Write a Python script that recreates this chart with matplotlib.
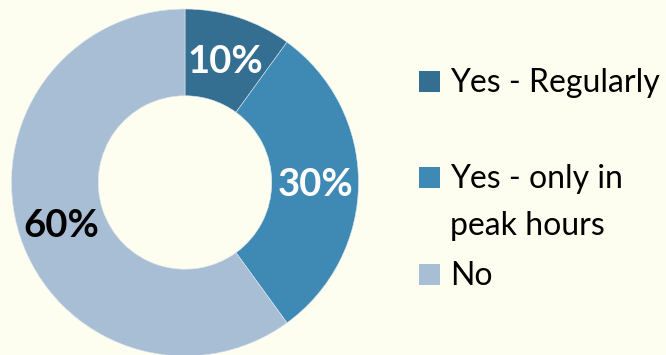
import matplotlib
matplotlib.use("Agg")
import matplotlib.pyplot as plt
from matplotlib.patches import Rectangle

categories = ["Yes - Regularly", "Yes - only in\npeak hours", "No"]
shares = [10, 30, 60]
colors = ["#346F92", "#3F89B5", "#A8BED4"]
pct_text_colors = ["white", "white", "black"]

BG = "#FEFEF0"
FONT = "Lato"

fig = plt.figure(figsize=(6.66, 3.55), dpi=100, facecolor=BG)
W, H = 666, 355

# donut: centre (185, 182.5) px from top-left, outer radius ~173.5 px
cx, cy, r = 185, 182.5, 173.5
ax = fig.add_axes([(cx - r) / W, (H - cy - r) / H, 2 * r / W, 2 * r / H])
ax.set_facecolor(BG)

wedges, _, autotexts = ax.pie(
    shares,
    colors=colors,
    startangle=90,
    counterclock=False,
    autopct="%.0f%%",
    pctdistance=0.75,
    wedgeprops=dict(width=0.5, edgecolor="#DDE6EE", linewidth=0.4),
)
for t, c in zip(autotexts, pct_text_colors):
    t.set_color(c)
    t.set_fontsize(27.5)
    t.set_fontweight("bold")
    t.set_fontfamily(FONT)
    t.set_va("center_baseline")
ax.set_aspect("equal")
ax.set_xlim(-1, 1)
ax.set_ylim(-1, 1)

# legend drawn in pixel layout on the right
sq = 21
box_x = 419
baselines = [92, 188, 285]
line_gap = 47
for cat, col, base in zip(categories, colors, baselines):
    fig.add_artist(Rectangle((box_x / W, (H - base) / H), sq / W, sq / H,
                             transform=fig.transFigure, facecolor=col,
                             edgecolor="none"))
    for i, line in enumerate(cat.split("\n")):
        fig.text(450 / W, (H - base - i * line_gap) / H, line,
                 ha="left", va="baseline", fontsize=23, fontfamily=FONT,
                 color="black")

fig.savefig("out.png", dpi=100, facecolor=BG)
